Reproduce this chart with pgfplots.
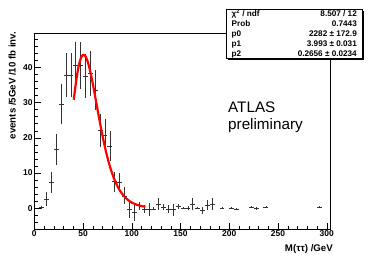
\documentclass[border=0pt]{standalone}
\usepackage{pgfplots}
\pgfplotsset{compat=1.18}
\usepackage{pgfplotstable}
\usepackage{fontspec}
\setmainfont{Liberation Sans}

\pgfplotstableread{
x y ex ey
7.5 0.2 2.5 0.3
12.5 2.6 2.5 2.1
17.5 7.3 2.5 2.9
22.5 16.7 2.5 4.4
27.5 29.6 2.5 5.7
32.5 37.8 2.5 6.2
37.5 37.8 2.5 6.2
42.5 40.6 2.5 6.5
47.5 40.6 2.5 6.7
52.5 37.5 2.5 6.2
57.5 38.3 2.5 6.3
62.5 33.6 2.5 5.8
67.5 22.2 2.5 4.7
72.5 20.8 2.5 4.5
77.5 17.6 2.5 4.3
82.5 7.5 2.5 2.8
87.5 7.3 2.5 2.8
92.5 3.5 2.5 2.4
97.5 -0.2 2.5 2.6
102.5 -1.2 2.5 2.3
107.5 0.7 2.5 1.2
112.5 -0.3 2.5 1.1
117.5 -0.3 2.5 1.8
122.5 -0.2 2.5 0.4
127.5 1.2 2.5 1.8
132.5 0.3 2.5 0.8
137.5 -0.3 2.5 1.2
142.5 -0.4 2.5 1.7
147.5 0.5 2.5 0.6
152.5 0.1 2.5 0.3
157.5 0.0 2.5 0.6
162.5 1.1 2.5 1.7
167.5 0.1 2.5 0.3
172.5 -0.6 2.5 1.0
177.5 0.9 2.5 1.3
182.5 1.2 2.5 1.6
192.5 0.1 2.5 0.2
202.5 0.1 2.5 0.2
207.5 -0.2 2.5 0.3
222.5 0.3 2.5 0.2
227.5 0.0 2.5 0.4
237.5 0.3 2.5 0.2
292.5 0.3 2.5 0.2
}\datatab

\pgfplotstableread{
x y
40.5 30.83
42 34.23
44 38.08
46 40.96
48 42.80
50 43.57
52 43.34
54 42.25
56 40.45
58 38.10
60 35.37
62 32.40
64 29.34
66 26.28
68 23.33
70 20.52
72 17.92
74 15.53
76 13.38
78 11.46
80 9.76
82 8.27
85 6.40
88 4.92
90 4.11
95 2.58
100 1.60
105 0.98
110 0.60
114 0.40
}\fittab

\begin{document}
\begin{tikzpicture}
\useasboundingbox (0,0) rectangle (368bp,258bp);
\begin{axis}[
  at={(34.3bp,28.7bp)}, anchor=south west,
  scale only axis, width=296.4bp, height=196bp,
  xmin=0, xmax=304, ymin=-6, ymax=49.7,
  xtick={0,50,...,300}, ytick={0,10,...,40},
  minor xtick={10,20,...,300}, minor ytick={-4,-2,...,48},
  tick align=inside, xtick pos=bottom, ytick pos=left,
  major tick length=6.5bp, minor tick length=3.5bp,
  tick style={black, line width=0.5bp},
  axis line style={black, line width=0.8bp},
  ticklabel style={font=\fontsize{8.5}{9}\selectfont\bfseries},
  /pgf/number format/assume math mode=true,
  xticklabel style={inner sep=1.5bp},
  yticklabel style={inner sep=1.5bp},
  clip=false,
]
\addplot[draw=none, mark=none,
  error bars/.cd, x dir=both, x explicit, y dir=both, y explicit,
  error mark=none, error bar style={draw=black!80, solid, line width=0.6bp}]
  table[x=x, y=y, x error=ex, y error=ey] {\datatab};
\addplot[red, line width=2.2bp, smooth, no marks] table[x=x, y=y] {\fittab};
\end{axis}
% axis titles
\node[rotate=90, anchor=base east, inner sep=0pt, font=\fontsize{9.7}{10}\selectfont\bfseries]
  at (15.5bp,226.3bp) {events /5GeV /10 fb inv.};
\node[anchor=base east, inner sep=0pt, font=\fontsize{9.7}{10}\selectfont\bfseries]
  at (333bp,7bp) {M(ττ) /GeV};
% ATLAS preliminary
\node[anchor=base west, inner sep=0pt, font=\fontsize{15.3}{17}\selectfont] at (228bp,145.3bp) {ATLAS};
\node[anchor=base west, inner sep=0pt, font=\fontsize{15.3}{17}\selectfont] at (228bp,128bp) {preliminary};
% stats box
\fill[black] (228bp,198bp) rectangle (363.5bp,247bp);
\filldraw[fill=white, draw=black, line width=0.6bp] (226.5bp,199.5bp) rectangle (362bp,248.5bp);
\begin{scope}[every node/.style={inner sep=0pt, font=\fontsize{8.2}{9}\selectfont\bfseries}]
\node[anchor=base west] at (231.5bp,241.2bp) {χ\textsuperscript{2} / ndf};
\node[anchor=base west] at (231.5bp,231.5bp) {Prob};
\node[anchor=base west] at (231.5bp,221.5bp) {p0};
\node[anchor=base west] at (231.5bp,211.5bp) {p1};
\node[anchor=base west] at (231.5bp,201.5bp) {p2};
\node[anchor=base east] at (357bp,241.2bp) {8.507 / 12};
\node[anchor=base east] at (357bp,231.5bp) {0.7443};
\node[anchor=base east] at (357bp,221.5bp) {2282 ± 172.9};
\node[anchor=base east] at (357bp,211.5bp) {3.993 ± 0.031};
\node[anchor=base east] at (357bp,201.5bp) {0.2656 ± 0.0234};
\end{scope}
\end{tikzpicture}
\end{document}
